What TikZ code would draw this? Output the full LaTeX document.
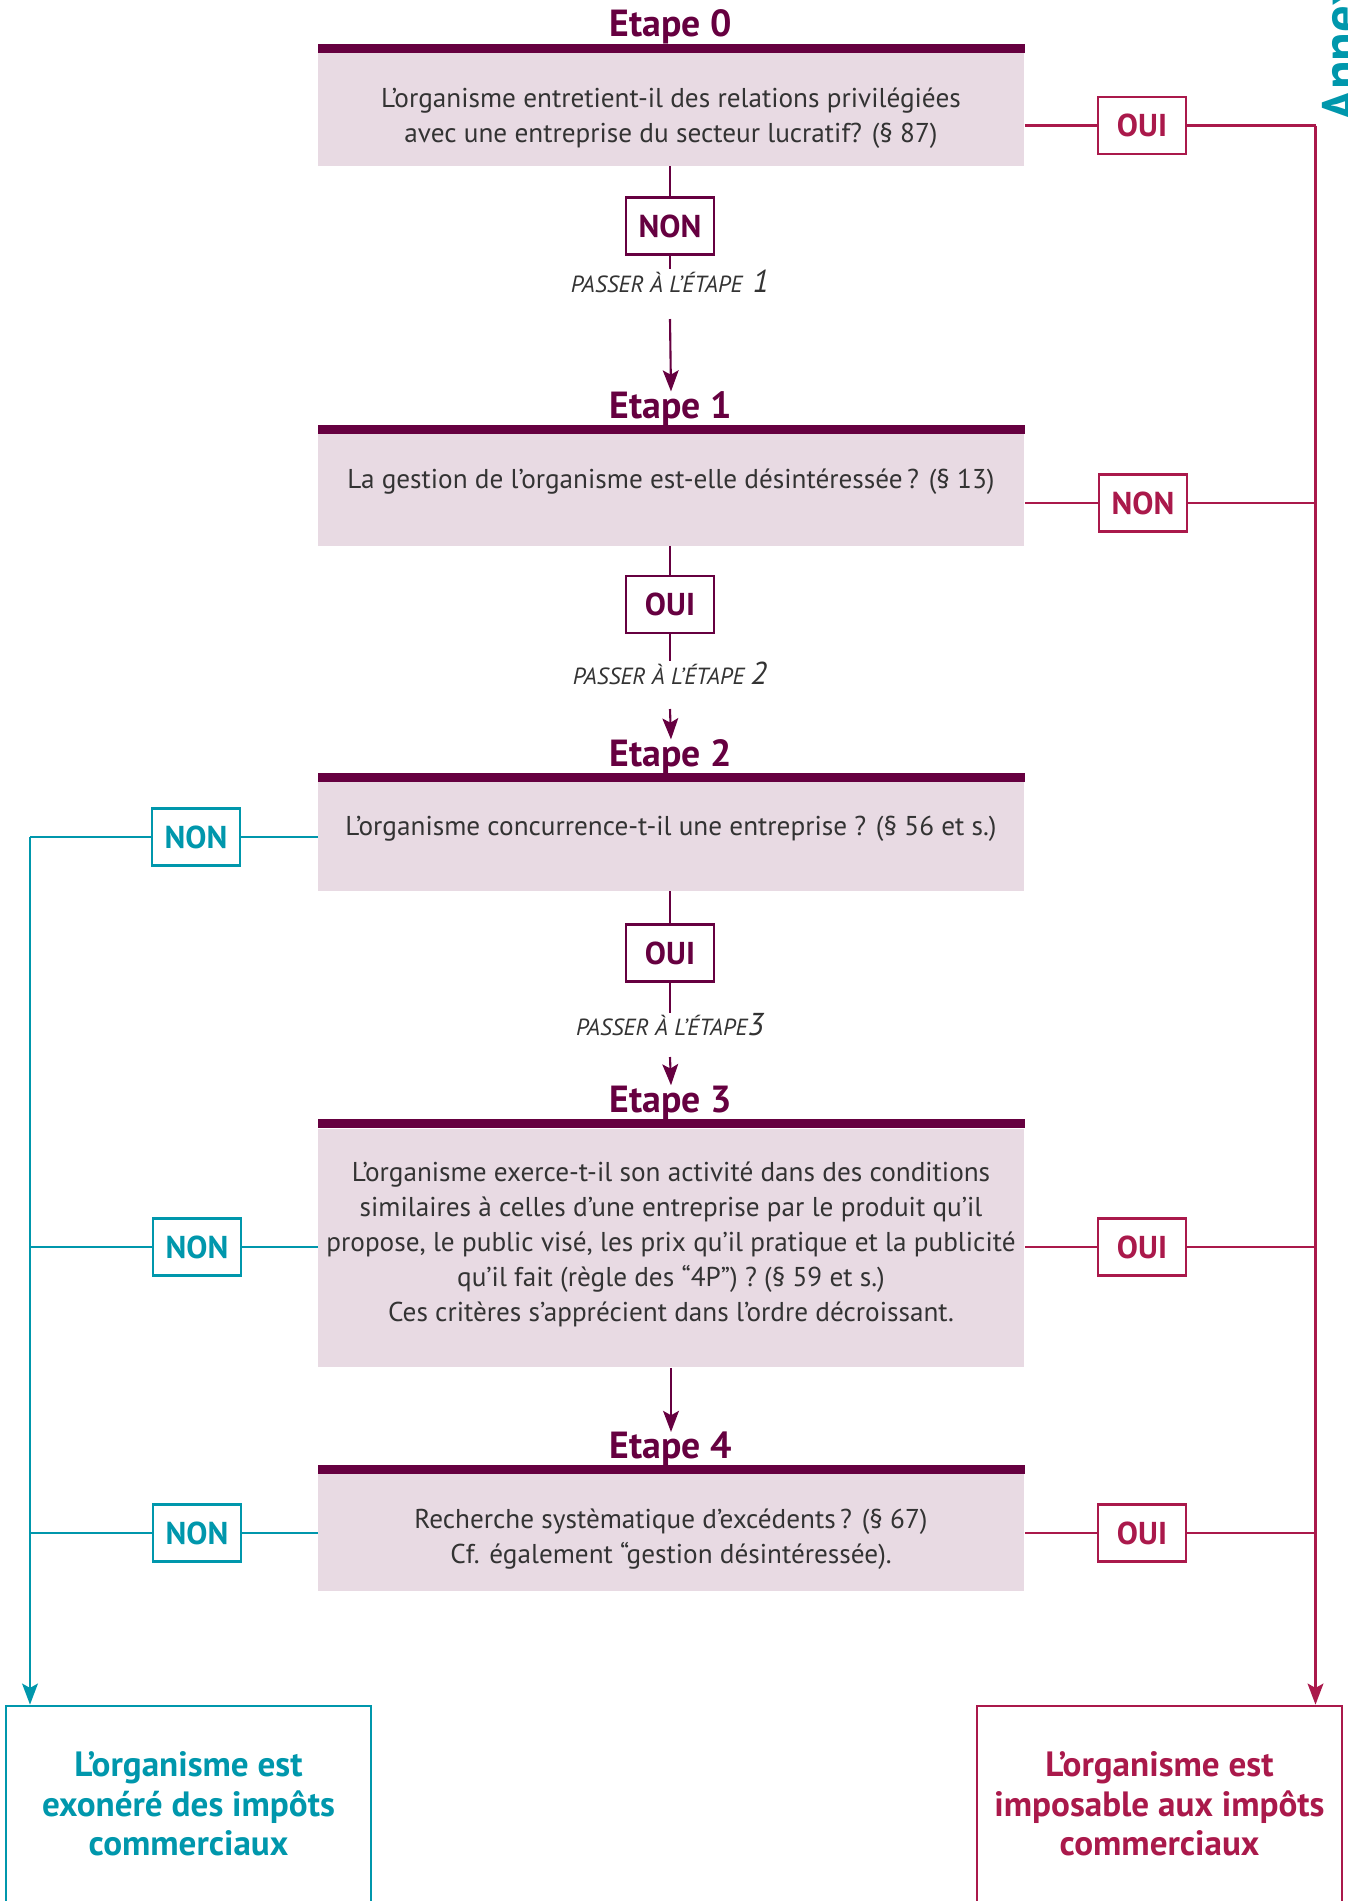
\documentclass[tikz,border=0pt]{standalone}
\usepackage{fontspec}
\setmainfont{PT Sans}
\usetikzlibrary{arrows.meta,calc}

\definecolor{plum}{HTML}{660040}
\definecolor{boxpink}{HTML}{E8DAE3}
\definecolor{taxred}{HTML}{AA194B}
\definecolor{exoteal}{HTML}{0097AC}
\definecolor{bodygray}{HTML}{333333}

\begin{document}
\begin{tikzpicture}[
  x=0.02cm, y=-0.02cm,
  stepbox/.style={fill=boxpink, minimum width=14.13cm, inner sep=0pt},
  steptext/.style={text=bodygray, align=center, inner sep=0pt,
    font=\fontsize{15.5}{19.9}\selectfont},
  steptitle/.style={text=plum, inner sep=0pt, font=\fontsize{21.5}{24}\selectfont\bfseries},
  answer/.style={draw, line width=1.5pt, fill=white, minimum width=1.76cm,
    minimum height=1.14cm, inner sep=0pt, font=\fontsize{18}{20}\selectfont\bfseries},
  nextstep/.style={text=bodygray, inner sep=0pt, font=\fontsize{13.3}{15}\selectfont\itshape},
  verdict/.style={draw, line width=1.6pt, minimum width=7.3cm, minimum height=5.08cm},
  verdicttext/.style={align=center, inner sep=0pt, font=\fontsize{20}{22.4}\selectfont\bfseries},
  tip/.style={-{Stealth[length=12pt,width=9pt,inset=2.5pt]}},
  flow/.style={draw=plum, line width=1.2pt},
  flowarrow/.style={flow, tip},
  taxline/.style={draw=taxred, line width=1.2pt},
  exoline/.style={draw=exoteal, line width=1.2pt}
]
\useasboundingbox (0,0) rectangle (1347,1901);

% Steps
\node[stepbox, minimum height=2.26cm] (s0) at (671.25,109.5) {};
\node[stepbox, minimum height=2.232cm] (s1) at (671.25,489.8) {};
\node[stepbox, minimum height=2.18cm] (s2) at (671.25,836.5) {};
\node[stepbox, minimum height=4.78cm] (s3) at (671.25,1248) {};
\node[stepbox, minimum height=2.33cm] (s4) at (671.25,1532.5) {};
\foreach \s in {s0,s1,s2,s3,s4}
  \fill[plum] (\s.north west) rectangle ([yshift=0.18cm]\s.north east);

\node[steptitle] (title0) at (671,27) {Etape 0};
\node[steptitle] (title1) at (671,409) {Etape 1};
\node[steptitle] (title2) at (671,757) {Etape 2};
\node[steptitle] (title3) at (671,1102.6) {Etape 3};
\node[steptitle] (title4) at (671,1449.4) {Etape 4};

\node[steptext] (q0) at (671,118) {L’organisme entretient-il des relations privilégiées\\avec une entreprise du secteur lucratif? (§ 87)};
\node[steptext] (q1) at (671,481.7) {La gestion de l’organisme est-elle désintéressée\,? (§ 13)};
\node[steptext] (q2) at (671,828.5) {L’organisme concurrence-t-il une entreprise ? (§ 56 et s.)};
\node[steptext] (q3) at (671,1244) {L’organisme exerce-t-il son activité dans des conditions\\similaires à celles d’une entreprise par le produit qu’il\\propose, le public visé, les prix qu’il pratique et la publicité\\qu’il fait (règle des “4P”) ? (§ 59 et s.)\\Ces critères s’apprécient dans l’ordre décroissant.};
\node[steptext] (q4) at (671,1539) {Recherche systèmatique d’excédents\,? (§ 67)\\Cf. également “gestion désintéressée).};

% Going down
\node[answer, draw=plum, text=plum] (non0) at (670,226) {NON};
\node[answer, draw=plum, text=plum] (oui1) at (670,604.5) {OUI};
\node[answer, draw=plum, text=plum] (oui2) at (670,953) {OUI};

\node[nextstep] (pass0) at (670,281) {PASSER À L’ÉTAPE \,{\fontsize{18}{18}\selectfont 1}};
\node[nextstep] (pass1) at (670,673) {PASSER À L’ÉTAPE {\fontsize{18}{18}\selectfont 2}};
\node[nextstep] (pass2) at (670,1024.5) {PASSER À L’ÉTAPE{\fontsize{18}{18}\selectfont 3}};

\draw[flow] (s0.south -| non0) -- (non0.north);
\draw[flow] (non0.south) -- (pass0.north);
\draw[flow] (s1.south -| oui1) -- (oui1.north);
\draw[flow] (oui1.south) -- (pass1.north);
\draw[flow] (s2.south -| oui2) -- (oui2.north);
\draw[flow] (oui2.south) -- (pass2.north);

\coordinate (go0) at (670,319);
\coordinate (go1) at (670,709);
\coordinate (go2) at (670,1057);
\draw[flowarrow] (go0) -- (title1.north);
\draw[flowarrow] (go1) -- (title2.north);
\draw[flowarrow] (go2) -- (title3.north);
\draw[flowarrow] (s3.south -| title4) -- (title4.north);

% Taxable side
\node[answer, draw=taxred, text=taxred] (oui0) at (1142,125.5) {OUI};
\node[answer, draw=taxred, text=taxred] (non1) at (1143,503) {NON};
\node[answer, draw=taxred, text=taxred] (oui3) at (1142,1247) {OUI};
\node[answer, draw=taxred, text=taxred] (oui4) at (1142,1533) {OUI};

\node[verdict, draw=taxred] (imp) at (1159.5,1833) {};
\node[verdicttext, text=taxred] (imptext) at (1159.5,1804) {L’organisme est\\imposable aux impôts\\commerciaux};

\coordinate (taxrail) at (1315.5,125.5);
\foreach \a/\s in {oui0/s0,non1/s1,oui3/s3,oui4/s4} {
  \draw[taxline] (\s.east |- \a) -- (\a.west);
  \draw[taxline] (\a.east) -- (\a.east -| taxrail);
}
\draw[taxline, tip] (taxrail) -- (taxrail |- imp.north);

% Exempt side
\node[answer, draw=exoteal, text=exoteal] (non2) at (196,837) {NON};
\node[answer, draw=exoteal, text=exoteal] (non3) at (197,1247) {NON};
\node[answer, draw=exoteal, text=exoteal] (non4) at (197,1533) {NON};

\node[verdict, draw=exoteal] (exo) at (188.5,1833) {};
\node[verdicttext, text=exoteal] (exotext) at (188.5,1804) {L’organisme est\\exonéré des impôts\\commerciaux};

\coordinate (exorail) at (30,837);
\foreach \a/\s in {non2/s2,non3/s3,non4/s4} {
  \draw[exoline] (\s.west |- \a) -- (\a.east);
  \draw[exoline] (\a.west) -- (\a.west -| exorail);
}
\draw[exoline, tip] (exorail) -- (exorail |- exo.north);

% Page tab
\node[rotate=90, anchor=north west, inner sep=0pt, text=exoteal,
  font=\fontsize{30}{30}\selectfont\bfseries] (annex) at (1322,122) {Annex};
\end{tikzpicture}
\end{document}
